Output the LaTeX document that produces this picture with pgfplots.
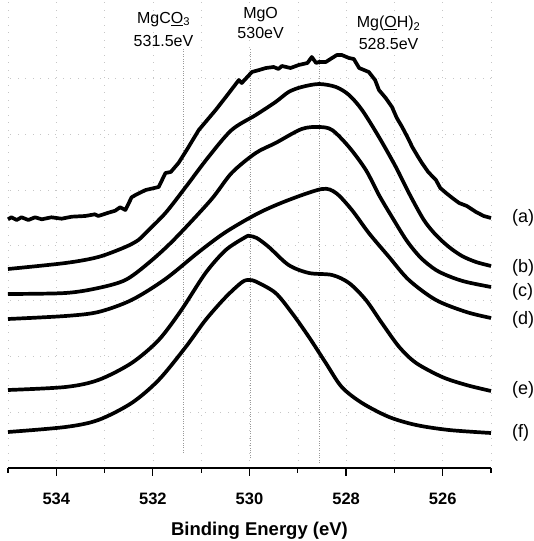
\documentclass[border=0pt]{standalone}
\usepackage{pgfplots}
\pgfplotsset{compat=1.18}
\usepackage{fontspec}
\setmainfont{Liberation Sans}
\begin{document}
\begin{tikzpicture}
\path[use as bounding box] (-8pt,-73pt) rectangle (526pt,468pt);
\begin{axis}[
  at={(0,0)}, anchor=south west,
  scale only axis, width=483pt, height=468pt,
  x dir=reverse, xmin=525, xmax=535, ymin=0, ymax=468,
  axis x line*=bottom, axis y line*=left,
  x axis line style={-, line width=1.3pt},
  y axis line style={draw=none},
  ytick={56,112,168,223,278,334,390}, yticklabels={},
  ytick style={draw=none},
  xtick={526,528,...,534},
  minor xtick={525,527,...,535},
  tick align=outside,
  major tick length=7.5pt,
  minor tick length=4.5pt,
  xtick style={black, line width=1.2pt},
  minor x tick style={black, line width=1.2pt},
  xmajorgrids, xminorgrids, ymajorgrids,
  major grid style={gray!45, line width=0.4pt, dash pattern=on 0.5pt off 7pt},
  minor grid style={gray!45, line width=0.4pt, dash pattern=on 0.5pt off 7pt},
  /pgf/number format/assume math mode=true,
  xticklabel style={font=\fontsize{16.5}{18}\selectfont\bfseries, anchor=base, yshift=-28.5pt},
  xticklabel shift=0pt,
  xlabel={\bfseries Binding Energy (eV)},
  xlabel style={font=\fontsize{18.5}{20}\selectfont, at={(axis description cs:0.5,0)}, anchor=base, yshift=-67pt, xshift=10pt},
  clip=false,
]
% reference dotted lines
\addplot[gray!80, line width=0.7pt, dash pattern=on 0.8pt off 1.6pt] coordinates {(531.37,15) (531.37,420)};
\addplot[gray!80, line width=0.7pt, dash pattern=on 0.8pt off 1.6pt] coordinates {(529.98,10) (529.98,420)};
\addplot[gray!80, line width=0.7pt, dash pattern=on 0.8pt off 1.6pt] coordinates {(528.55,5) (528.55,415)};
% (a)
\addplot[black, line width=3.7pt, line join=round] coordinates {
(535.0,248.7) (534.93,250.7) (534.82,248) (534.72,250.7) (534.58,248) (534.44,250.7)
(534.30,248.7) (534.10,250.7) (533.89,249.3) (533.68,251.3) (533.40,252) (533.20,253.7)
(533.13,252) (532.92,255.3) (532.78,257.3) (532.68,260.7) (532.57,258) (532.44,270.7)
(532.36,273) (532.15,278) (531.88,281) (531.74,295) (531.63,296) (531.47,305)
(531.30,318) (531.05,338) (530.91,346) (530.70,358) (530.49,371) (530.22,388) (530.16,385)
(529.95,396) (529.80,398) (529.66,400) (529.50,401) (529.40,399) (529.33,402) (529.15,400)
(528.98,403) (528.80,405) (528.71,411) (528.62,405) (528.56,406) (528.42,406)
(528.29,410) (528.19,413) (528.09,413) (527.94,410) (527.84,409) (527.73,400)
(527.53,396) (527.40,388) (527.32,378) (527.18,370) (527.05,361) (526.95,350) (526.84,341)
(526.72,330) (526.63,321) (526.52,312) (526.43,305) (526.30,296) (526.14,288) (526.05,280)
(525.93,275) (525.80,270) (525.66,265) (525.50,262) (525.31,256) (525.15,252) (525.0,250)
};
% (b)
\addplot[black, line width=3.7pt, smooth, tension=0.5] coordinates {
(535,199) (533.81,205) (533.13,211) (532.57,221) (532.30,228) (532.15,235) (531.74,255)
(531.32,281) (530.85,311) (530.37,338) (529.87,353) (529.46,366) (529.19,376) (528.92,381)
(528.56,384) (528.21,381) (527.94,373) (527.67,358) (527.32,331) (526.97,301) (526.70,275)
(526.39,248) (526.14,233) (525.87,221) (525.60,212) (525.31,206) (525,202)
};
% (c)
\addplot[black, line width=3.7pt, smooth, tension=0.5] coordinates {
(535,174) (533.81,175) (533.13,180) (532.57,188) (532.09,205) (531.57,228) (530.80,268)
(530.37,295) (529.87,315) (529.46,325) (528.92,339) (528.56,341) (528.29,338) (527.94,321)
(527.59,298) (527.32,273) (527.05,251) (526.74,227) (526.45,210) (526.14,198) (525.83,191)
(525.51,186) (525,181)
};
% (d)
\addplot[black, line width=3.7pt, smooth, tension=0.5] coordinates {
(535,149) (533.81,152) (533.13,156) (532.44,168) (531.74,189) (531.05,216) (530.49,236)
(529.81,255) (529.19,268) (528.50,279) (528.21,275) (527.88,258) (527.53,235) (527.11,211)
(526.70,188) (526.14,168) (525.51,156) (525,150)
};
% (e)
\addplot[black, line width=3.7pt, smooth, tension=0.5] coordinates {
(535,78) (533.81,81) (533.13,88) (532.44,105) (531.88,128) (531.41,158) (530.91,195)
(530.49,218) (530.08,231) (530.00,232) (529.85,230) (529.60,221) (529.19,203) (528.77,195)
(528.29,193) (527.94,185) (527.59,168) (527.26,145) (526.90,121) (526.55,105) (526.01,91)
(525.51,83) (525,77)
};
% (f)
\addplot[black, line width=3.7pt, smooth, tension=0.5] coordinates {
(535,36) (533.81,41) (533.13,48) (532.44,65) (531.88,88) (531.32,121) (530.91,148)
(530.49,171) (530.15,186) (530.00,188) (529.85,186) (529.46,175) (529.12,155) (528.77,131)
(528.42,105) (528.09,81) (527.67,65) (527.11,51) (526.55,43) (525.87,38) (525,35)
};
% curve labels
\begin{scope}[every node/.style={anchor=west, font=\fontsize{18}{20}\selectfont, inner sep=0pt, xshift=21pt}]
\node at (axis cs:525,250) {(a)};
\node at (axis cs:525,200) {(b)};
\node at (axis cs:525,176) {(c)};
\node at (axis cs:525,148) {(d)};
\node at (axis cs:525,78) {(e)};
\node at (axis cs:525,35) {(f)};
\end{scope}
\begin{scope}[every node/.style={anchor=base, font=\fontsize{16}{18}\selectfont, inner sep=0pt}]
\node at (axis cs:531.78,444.7) {MgC\underline{O}\textsubscript{3}};
\node at (axis cs:531.78,421) {531.5eV};
\node at (axis cs:529.77,449.7) {MgO};
\node at (axis cs:529.77,429) {530eV};
\node at (axis cs:527.12,440) {Mg(\underline{O}H)\textsubscript{2}};
\node at (axis cs:527.12,418) {528.5eV};
\end{scope}
\end{axis}
\end{tikzpicture}
\end{document}
